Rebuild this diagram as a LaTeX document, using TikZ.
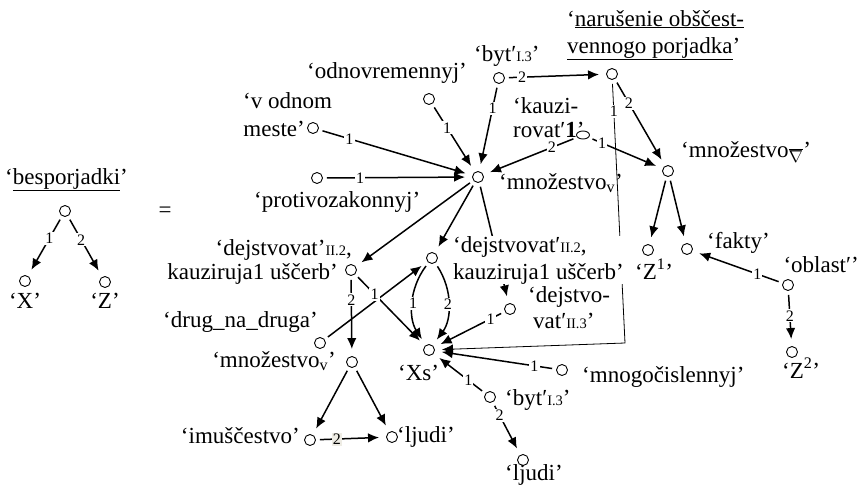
\documentclass[tikz,border=0pt]{standalone}
\usepackage{fontspec}
\setmainfont{Liberation Serif}
\usetikzlibrary{arrows.meta,shapes.geometric}
\definecolor{lblgray}{RGB}{238,236,228}
\newcommand{\smcap}[1]{{\fontsize{14.5}{14.5}\selectfont #1}}

\tikzset{
  pt/.style={circle,draw,line width=0.9pt,minimum size=11pt,inner sep=0pt},
  txt/.style={font=\fontsize{23}{27}\selectfont,inner sep=0pt,anchor=base west},
  lbl/.style={font=\fontsize{16}{16}\selectfont,fill=white,inner sep=1.2pt},
  arc/.style={line width=1.5pt,-{Latex[length=11pt,width=9.5pt]},shorten >=7pt,shorten <=4pt},
  thinarc/.style={line width=0.8pt,-{Latex[length=11pt,width=9.5pt]},shorten >=7pt,shorten <=4pt},
}

\begin{document}
\begin{tikzpicture}[x=1pt,y=-1pt]
\useasboundingbox (0,0) rectangle (865,498);

% ---- left tree: besporjadki ----
\node[pt] (bes) at (65,211) {};
\node[pt] (bX)  at (25,281) {};
\node[pt] (bZ)  at (105,282) {};

% ---- right-hand network ----
\node[pt] (hub)  at (478,177) {};
\node[pt] (odn)  at (429,99) {};
\node[pt] (vod)  at (313,128) {};
\node[pt] (pro)  at (317,178) {};
\node[pt] (byt1) at (499,78) {};
\node[pt] (nar)  at (612,74) {};
\node[ellipse,draw,line width=0.9pt,minimum width=13pt,minimum height=8pt,inner sep=0pt] (kau) at (583,135) {};
\node[pt] (mnd)  at (668,171) {};
\node[pt] (z1)   at (648,250) {};
\node[pt] (fak)  at (687,249) {};
\node[pt] (obl)  at (788,285) {};
\node[pt] (z2)   at (792,352) {};
\node[pt] (dl)   at (351,270) {};
\node[pt] (dr)   at (432,258) {};
\node[pt] (d3)   at (510,309) {};
\node[pt] (drg)  at (320,343) {};
\node[pt] (xs)   at (429,350) {};
\node[pt] (mnl)  at (352,362) {};
\node[pt] (imu)  at (310,440) {};
\node[pt] (lj1)  at (392,437) {};
\node[pt] (mng)  at (562,370) {};
\node[pt] (byt2) at (490,397) {};
\node[pt] (lj2)  at (523,460) {};
\coordinate (cnr) at (625,343);

% ---- connectors ----
\draw[arc] (bes) -- node[lbl,pos=.37]{1} (bX);
\draw[arc] (bes) -- node[lbl,pos=.39]{2} (bZ);

\draw[arc] (odn) -- node[lbl,pos=.35]{1} (hub);
\draw[arc] (vod) -- node[lbl,pos=.2]{1} (hub);
\draw[arc] (pro) -- node[lbl,pos=.25]{1} (hub);
\draw[arc] (byt1) -- node[lbl,pos=.28]{1} (hub);
\draw[arc] (kau) -- node[lbl,pos=.27]{2} (hub);

\draw[arc] (byt1) -- node[lbl,pos=.17]{2} (nar);
\draw[arc] (kau) -- node[lbl,pos=.18]{1} (mnd);
\draw[arc] (nar) -- node[lbl,pos=.28]{2} (mnd);
\draw[arc] (mnd) -- (z1);
\draw[arc] (mnd) -- (fak);
\draw[arc] (obl) -- node[lbl,pos=.28]{1} (fak);
\draw[arc] (obl) -- node[lbl,pos=.45]{2} (z2);

\draw[thinarc] (nar) -- node[lbl,pos=.12]{1} (cnr) -- (xs);

\draw[arc] (hub) -- (dl);
\draw[arc] (hub) -- (dr);
\draw[arc] (hub) -- (d3);
\draw[arc] (drg) -- (dr);
\draw[arc] (dl) -- node[lbl,pos=.28]{1} (xs);
\draw[arc] (dl) -- node[lbl,pos=.3]{2} (mnl);
\draw[arc] (dr) to[bend right=35] node[lbl]{1} (xs);
\draw[arc] (dr) to[bend left=35] node[lbl]{2} (xs);
\draw[arc] (d3) -- node[lbl,pos=.2]{1} (xs);
\draw[arc] (mng) -- node[lbl,pos=.18]{1} (xs);
\draw[arc] (byt2) -- node[lbl,pos=.33]{1} (xs);
\draw[arc] (byt2) -- node[lbl,pos=.25]{2} (lj2);
\draw[arc] (mnl) -- (imu);
\draw[arc] (mnl) -- (lj1);
\draw[arc] (imu) -- node[lbl,fill=lblgray,pos=.3]{2} (lj1);

% ---- texts ----
\node[txt] (t-bes) at (5,184) {‘\underline{besporjadki}’};
\node[txt,anchor=center] (t-eq) at (165,212) {=};
\node[txt,anchor=base] (t-X) at (25,308) {‘X’};
\node[txt,anchor=base] (t-Z) at (105,308) {‘Z’};

\node[txt] (t-odn) at (307,78) {‘odnovremennyj’};
\node[txt] (t-vod1) at (243,108) {‘v odnom};
\node[txt,anchor=base east] (t-vod2) at (305,136) {meste’};
\node[txt] (t-pro) at (254,207) {‘protivozakonnyj’};
\node[txt] (t-byt1) at (474,61) {‘byt′\smcap{I.3}’};
\node[txt] (t-nar1) at (567,26) {‘\underline{narušenie obščest-}};
\node[txt] (t-nar2) at (567,53) {\underline{vennogo porjadka}’};
\node[txt] (t-kau1) at (513,113) {‘kauzi-};
\node[txt] (t-kau2) at (513,137) {rovat′\textbf{1}’};
\node[txt] (t-hub) at (499,189) {‘množestvo\textsubscript{v}’};
\node[txt] (t-mnd) at (681,157) {‘množestvo\textsubscript{$\overline{\nabla}$}’};

\node[txt,anchor=base east] (t-dl1) at (352,255) {‘dejstvovat’\smcap{II.2},};
\node[txt,anchor=base east] (t-dl2) at (338,279) {kauziruja1 uščerb’};
\node[txt,anchor=north west,align=left,fill=white,inner xsep=3pt] (t-dr) at (450,236)
  {‘dejstvovat′\smcap{II.2},\\kauziruja1 uščerb’\hspace{5pt}};
\node[txt] (t-d31) at (528,302) {‘dejstvo-};
\node[txt] (t-d32) at (533,328) {vat′\smcap{II.3}’};
\node[txt] (t-z1) at (635,279) {‘Z\textsuperscript{1}’};
\node[txt] (t-fak) at (707,248) {‘fakty’};
\node[txt,anchor=base east] (t-obl) at (859,272) {‘oblast′’};
\node[txt] (t-z2) at (782,378) {‘Z\textsuperscript{2}’};
\node[txt] (t-mng) at (582,382) {‘mnogočislennyj’};
\node[txt] (t-xs) at (398,380) {‘Xs’};
\node[txt,anchor=base east] (t-drg) at (318,327) {‘drug\_na\_druga’};
\node[txt,anchor=base east] (t-mnl) at (336,367) {‘množestvo\textsubscript{v}’};
\node[txt,anchor=base east] (t-imu) at (300,443) {‘imuščestvo’};
\node[txt] (t-lj1) at (397,442) {‘ljudi’};
\node[txt] (t-byt2) at (505,405) {‘byt′\smcap{I.3}’};
\node[txt] (t-lj2) at (505,480) {‘ljudi’};
\end{tikzpicture}
\end{document}
